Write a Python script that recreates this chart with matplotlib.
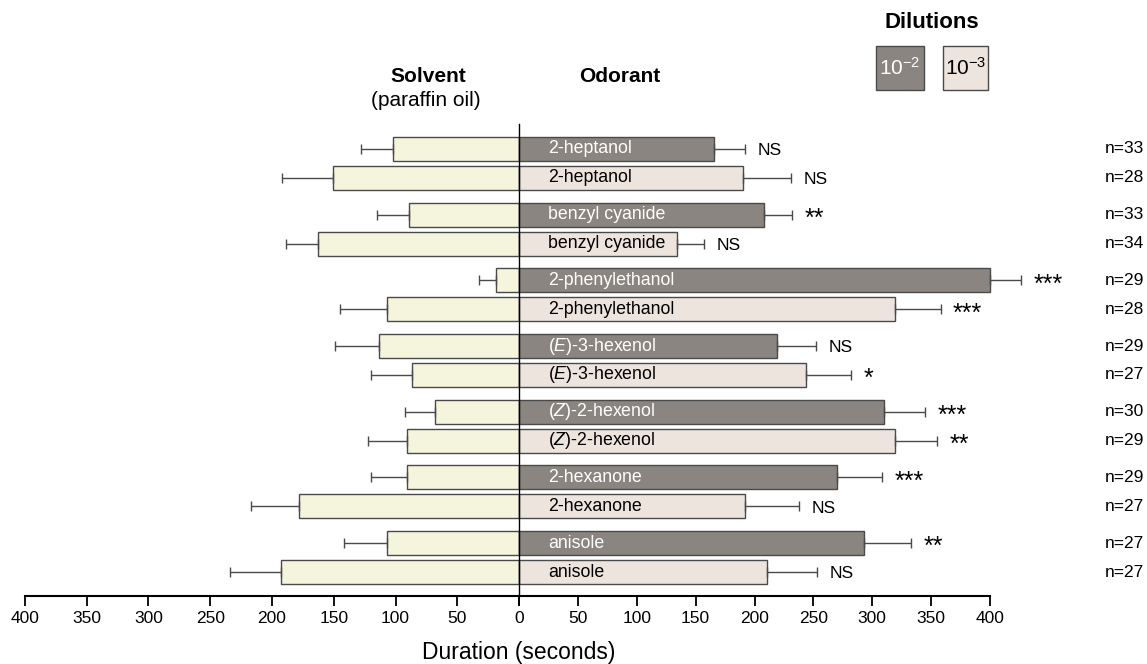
import matplotlib
matplotlib.use('Agg')
import matplotlib.pyplot as plt
import matplotlib.transforms as mtransforms
from matplotlib.patches import Rectangle
import numpy as np

plt.rcParams['font.family'] = ['Liberation Sans', 'DejaVu Sans']
plt.rcParams['mathtext.fontset'] = 'custom'
plt.rcParams['mathtext.rm'] = 'Liberation Sans'
plt.rcParams['mathtext.it'] = 'Liberation Sans:italic'

#%% data, one row per bar, top to bottom
#-------------------------------------------------
odorants = ['2-heptanol', 'benzyl cyanide', '2-phenylethanol', r'($\it{E}$)-3-hexenol',
            r'($\it{Z}$)-2-hexenol', '2-hexanone', 'anisole']
dilution = ['1e-2', '1e-3'] * 7
solvent_mean = [102, 151, 89, 163, 19, 107, 113, 87, 68, 91, 91, 178, 107, 193]
solvent_err = [26, 41, 26, 26, 13, 38, 36, 33, 24, 31, 29, 39, 35, 41]
odor_mean = [166, 190, 208, 134, 400, 319, 219, 244, 310, 319, 270, 192, 293, 211]
odor_err = [26, 41, 24, 23, 26, 39, 33, 38, 35, 36, 38, 46, 40, 42]
signif = ['NS', 'NS', '**', 'NS', '***', '***', 'NS', '*', '***', '**', '***', 'NS', '**', 'NS']
n_flies = [33, 28, 33, 34, 29, 28, 29, 27, 30, 29, 29, 27, 27, 27]
ticks_left = [400, 350, 300, 250, 200, 150, 100, 50, 0]
ticks_right = [0, 50, 100, 150, 200, 250, 300, 350, 400]

# colours
c_dark = '#8a8580'
c_light = '#ede4de'
c_solv = '#f5f4dc'
c_edge = '#4a4a4a'

#%% layout
#-------------------------------------------------
W, H = 1147, 664
fig = plt.figure(figsize=(W / 100, H / 100), dpi=100, facecolor='w')
bot = 1 - 596 / H
hgt = (596 - 124) / H
axL = fig.add_axes([25 / W, bot, 494 / W, hgt])
axR = fig.add_axes([519 / W, bot, 471 / W, hgt], sharey=axL)

# y positions: pairs of bars, one pair per odorant
ypos = []
for g in range(len(odorants)):
    ypos += [g, g + 0.44]
ypos = np.array(ypos)
bar_h = 0.365
fills = [c_dark if d == '1e-2' else c_light for d in dilution]

#%% solvent side (left)
#-------------------------------------------------
axL.barh(ypos, solvent_mean, height=bar_h, color=c_solv, edgecolor=c_edge, lw=1)
axL.errorbar(solvent_mean, ypos, xerr=[np.zeros(14), solvent_err], fmt='none',
             ecolor=c_edge, elinewidth=1, capsize=3.5, capthick=1, clip_on=False)
axL.set_xlim(400, 0)
axL.set_xticks(ticks_left)
axL.set_xticklabels([str(t) for t in ticks_left])

#%% odorant side (right)
#-------------------------------------------------
axR.barh(ypos, odor_mean, height=bar_h, color=fills, edgecolor=c_edge, lw=1, clip_on=False)
axR.errorbar(odor_mean, ypos, xerr=[np.zeros(14), odor_err], fmt='none',
             ecolor=c_edge, elinewidth=1, capsize=3.5, capthick=1, clip_on=False)
axR.set_xlim(0, 400)
axR.set_xticks(ticks_right)
axR.set_xticklabels([''] + [str(t) for t in ticks_right[1:]])
axR.axvline(0, color='k', lw=1, clip_on=False)

trans = mtransforms.blended_transform_factory(fig.transFigure, axR.transData)
for i, y in enumerate(ypos):
    name = odorants[i // 2]
    tc = 'w' if dilution[i] == '1e-2' else 'k'
    axR.text(25, y, name, color=tc, fontsize=12.8, va='center', ha='left')
    if signif[i] == 'NS':
        fs, dy = 12.5, -4.5
    else:
        fs, dy = 18, -8
    axR.annotate(signif[i], xy=(odor_mean[i] + odor_err[i], y), xytext=(9, dy),
                 textcoords='offset points', ha='left', va='baseline', fontsize=fs,
                 annotation_clip=False)
    fig.text(1144 / W, y, 'n=%d' % n_flies[i], transform=trans, ha='right', va='center',
             fontsize=12.5)

for ax in (axL, axR):
    ax.set_ylim(6.805, -0.38)
    ax.set_yticks([])
    for s in ('top', 'right', 'left'):
        ax.spines[s].set_visible(False)
    ax.spines['bottom'].set_linewidth(1.5)
    ax.tick_params(axis='x', direction='out', length=7, width=1.3, labelsize=12.5, pad=4)
    ax.set_facecolor('none')

fig.text(519 / W, 1 - 653 / H, 'Duration (seconds)', ha='center', va='center', fontsize=16.5)

#%% headers and dilution legend
#-------------------------------------------------
fig.text(428 / W, 1 - 76 / H, 'Solvent', ha='center', va='center', fontsize=15, weight='bold')
fig.text(426 / W, 1 - 100 / H, '(paraffin oil)', ha='center', va='center', fontsize=15)
fig.text(620 / W, 1 - 76 / H, 'Odorant', ha='center', va='center', fontsize=15, weight='bold')
fig.text(932 / W, 1 - 23 / H, 'Dilutions', ha='center', va='center', fontsize=16, weight='bold')

leg = [(876, 924, c_dark, 'w', r'$10^{-2}$'), (943, 988, c_light, 'k', r'$10^{-3}$')]
for x0, x1, fc, tc, lab in leg:
    fig.patches.append(Rectangle((x0 / W, 1 - 90 / H), (x1 - x0) / W, 44 / H,
                                 transform=fig.transFigure, facecolor=fc,
                                 edgecolor=c_edge, lw=1))
    fig.text((x0 + x1) / 2 / W, 1 - 68 / H, lab, color=tc, ha='center', va='center',
             fontsize=15)

fig.savefig('out.png', dpi=100)
